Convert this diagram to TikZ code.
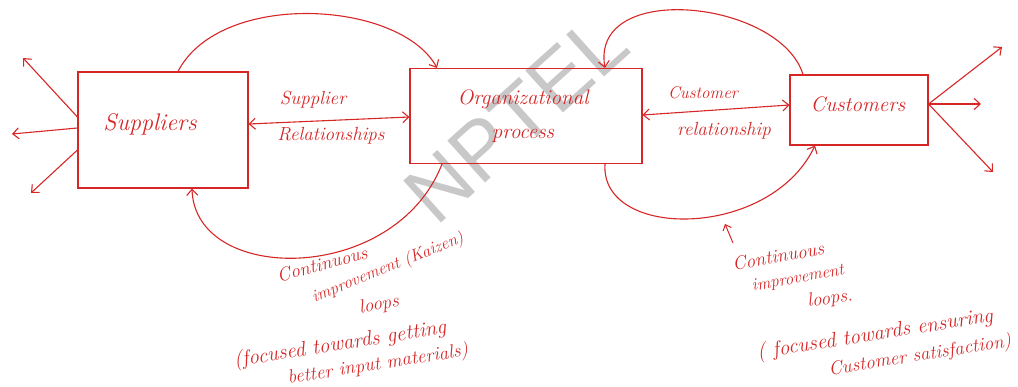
\documentclass[tikz,border=0pt]{standalone}
\usepackage{fontspec}
\newfontfamily\wmfont{Liberation Sans}
\usetikzlibrary{arrows.meta}
\definecolor{ink}{RGB}{214,38,38}
\definecolor{wm}{RGB}{200,200,200}
\tikzset{
  box/.style={draw=ink, line width=1.1pt, inner sep=0pt},
  conn/.style={draw=ink, line width=1.1pt},
  tip/.style={-{Straight Barb[length=6pt,width=11pt]}},
  dtip/.style={{Straight Barb[length=6pt,width=11pt]}-{Straight Barb[length=6pt,width=11pt]}},
  big/.style={text=ink, font=\fontsize{21}{34}\selectfont\itshape},
  lbl/.style={text=ink, inner sep=1pt, font=\fontsize{19}{22}\selectfont\itshape},
  lbls/.style={text=ink, inner sep=1pt, font=\fontsize{17}{20}\selectfont\itshape},
  lblb/.style={text=ink, inner sep=1pt, font=\fontsize{21}{24}\selectfont\itshape},
}
\begin{document}
\begin{tikzpicture}[x=1pt,y=-1pt]
\useasboundingbox (0,0) rectangle (1018,387);
% watermark
\node[text=wm, inner sep=0pt, font=\wmfont\fontsize{82}{82}\selectfont, rotate=42] (wmk) at (516,118) {NPTEL};
% boxes
\node[box, minimum width=170pt, minimum height=116pt] (sup) at (163,130) {};
\node[big, font=\fontsize{24}{28}\selectfont\itshape] (suptxt) at (150,124) {Suppliers};
\node[box, minimum width=232pt, minimum height=95pt] (org) at (526,116) {};
\node[big, align=center] (orgtxt) at (523,116) {Organizational\\process};
\node[box, minimum width=138pt, minimum height=70pt] (cust) at (859,110) {};
\node[big] (custtxt) at (858,104) {Customers};
% relationships
\draw[conn, dtip] ([yshift=6pt]sup.east) -- ([yshift=-1pt]org.west);
\node[lbl] (srel1) at (313,100) {Supplier};
\node[lbl] (srel2) at (331,136) {Relationships};
\draw[conn, dtip] ([yshift=1pt]org.east) -- ([yshift=5pt]cust.west);
\node[lbls] (crel1) at (703,93) {Customer};
\node[lbl] (crel2) at (724,131) {relationship};
% outgoing arrows suppliers
\coordinate (s1) at (23,58);
\coordinate (s2) at (12,134);
\coordinate (s3) at (31,193);
\draw[conn, tip] ([yshift=13pt]sup.west) -- (s1);
\draw[conn, tip] ([yshift=2pt]sup.west) -- (s2);
\draw[conn, tip] ([yshift=-20pt]sup.west) -- (s3);
% outgoing arrows customers
\coordinate (c1) at (1002,47);
\coordinate (c2) at (981,104);
\coordinate (c3) at (993,172);
\draw[conn, tip] ([yshift=6pt]cust.east) -- (c1);
\draw[conn, tip] ([yshift=6pt]cust.east) -- (c2);
\draw[conn, tip] ([yshift=6pt]cust.east) -- (c3);
% top arcs
\draw[conn, tip] ([xshift=15pt]sup.north) .. controls (220,-10) and (400,0) .. ([xshift=-89pt]org.north);
\draw[conn, tip] ([xshift=-56pt]cust.north) .. controls (780,0) and (590,-20) .. ([xshift=79pt]org.north);
% bottom loops
\draw[conn, tip] ([xshift=-84pt]org.south) .. controls (395,285) and (195,285) .. ([xshift=29pt]sup.south);
\draw[conn, tip] ([xshift=79pt]org.south) .. controls (600,240) and (770,240) .. ([xshift=-44pt]cust.south);
% pointer arrow
\coordinate (pt) at (725,224);
\coordinate (pb) at (733,243);
\draw[conn, line width=1pt, -{Straight Barb[length=5pt,width=9pt]}] (pb) -- (pt);
% left loop label
\node[lbl, rotate=15] (l1) at (322,264) {Continuous};
\node[lbls, rotate=22] (l2) at (388,268) {improvement (Kaizen)};
\node[lbl, rotate=10] (l3) at (379,305) {loops};
\node[lblb, rotate=9] (l4) at (340,345) {(focused towards getting};
\node[lbl, rotate=9] (l5) at (378,365) {better input materials)};
% right loop label
\node[lbl, rotate=10] (r1) at (778,256) {Continuous};
\node[lbls, rotate=10] (r2) at (798,279) {improvement};
\node[lbl, rotate=8] (r3) at (830,299) {loops.};
\node[lblb, rotate=9] (r4) at (875,335) {( focused towards ensuring};
\node[lbl, rotate=9] (r5) at (920,356) {Customer satisfaction)};
\end{tikzpicture}
\end{document}
